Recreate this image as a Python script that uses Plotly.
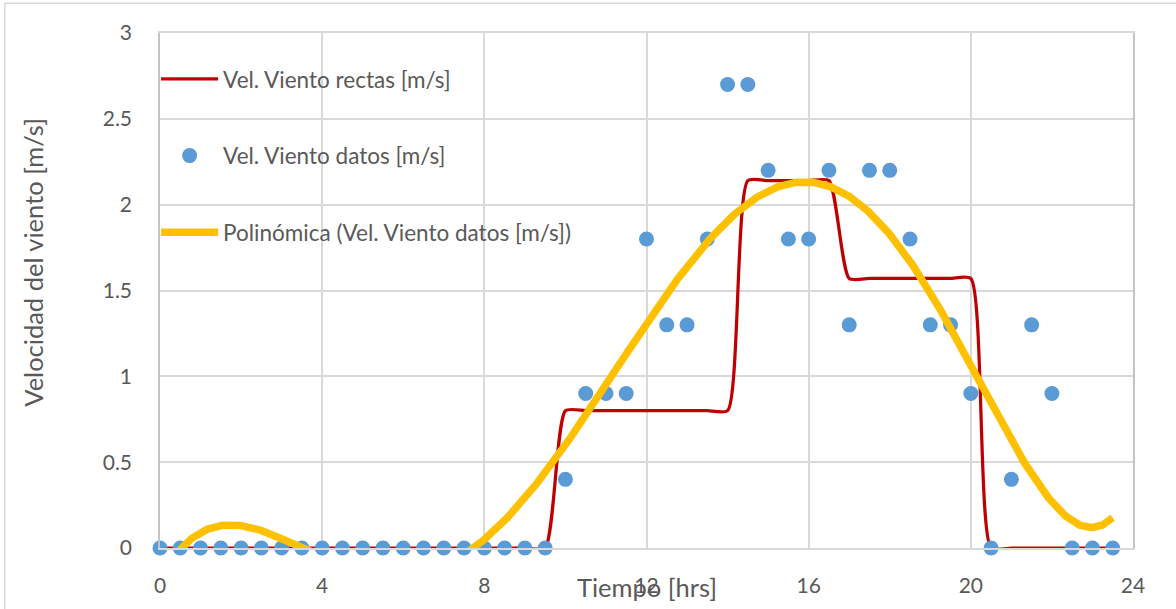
import numpy as np
import plotly.graph_objects as go

# Hora del día (cada media hora)
hours = [0, 0.5, 1, 1.5, 2, 2.5, 3, 3.5, 4, 4.5, 5, 5.5, 6, 6.5, 7, 7.5,
         8, 8.5, 9, 9.5, 10, 10.5, 11, 11.5, 12, 12.5, 13, 13.5, 14, 14.5,
         15, 15.5, 16, 16.5, 17, 17.5, 18, 18.5, 19, 19.5, 20, 20.5, 21,
         21.5, 22, 22.5, 23, 23.5]

# Velocidad medida [m/s]
wind_data = [0, 0, 0, 0, 0, 0, 0, 0, 0, 0, 0, 0, 0, 0, 0, 0,
             0, 0, 0, 0, 0.4, 0.9, 0.9, 0.9, 1.8, 1.3, 1.3, 1.8, 2.7, 2.7,
             2.2, 1.8, 1.8, 2.2, 1.3, 2.2, 2.2, 1.8, 1.3, 1.3, 0.9, 0, 0.4,
             1.3, 0.9, 0, 0, 0]

# Velocidad por tramos rectos [m/s]
wind_steps = [0, 0, 0, 0, 0, 0, 0, 0, 0, 0, 0, 0, 0, 0, 0, 0,
              0, 0, 0, 0, 0.8, 0.8, 0.8, 0.8, 0.8, 0.8, 0.8, 0.8, 0.8, 2.14,
              2.14, 2.14, 2.14, 2.14, 1.57, 1.57, 1.57, 1.57, 1.57, 1.57, 1.57, 0, 0,
              0, 0, 0, 0, 0]

x_ticks = [0, 4, 8, 12, 16, 20, 24]
y_ticks = [0, 0.5, 1, 1.5, 2, 2.5, 3]

# Línea de tendencia polinómica (orden 6) ajustada a los datos medidos
coef = np.polyfit(hours, wind_data, 6)
trend_x = np.linspace(hours[0], hours[-1], 800)
trend_y = np.polyval(coef, trend_x)

FONT = "Lato"
GREY_TXT = "#595959"
GRID = "#d9d9d9"

fig = go.Figure()

fig.add_trace(go.Scatter(
    x=hours, y=wind_steps, mode="lines",
    name="Vel. Viento rectas [m/s]", legendgroup="a",
    line=dict(color="#C00000", width=3.25, shape="spline", smoothing=0.6),
))
fig.add_trace(go.Scatter(
    x=hours, y=wind_data, mode="markers",
    name="Vel. Viento datos [m/s]", legendgroup="b",
    marker=dict(color="#5B9BD5", size=15, line=dict(width=0)),
    cliponaxis=False,
))
fig.add_trace(go.Scatter(
    x=trend_x, y=trend_y, mode="lines",
    name="Polinómica (Vel. Viento datos [m/s])", legendgroup="c",
    line=dict(color="#FFC000", width=7.5),
))

fig.update_layout(
    width=1176, height=609,
    margin=dict(l=160, r=43, t=33, b=55),
    paper_bgcolor="white", plot_bgcolor="white",
    font=dict(family=FONT, color=GREY_TXT, size=21),
    showlegend=True,
    legend=dict(
        x=-0.004, y=0.952, xanchor="left", yanchor="top",
        bgcolor="rgba(0,0,0,0)", borderwidth=0,
        font=dict(family=FONT, size=22.5, color=GREY_TXT),
        tracegroupgap=44.5, itemwidth=57,
    ),
    xaxis=dict(
        range=[0, 24], tickvals=x_ticks, ticktext=[str(v) for v in x_ticks],
        showgrid=True, gridcolor=GRID, gridwidth=1.5,
        showline=True, linecolor=GRID, linewidth=1.5, mirror=True,
        zeroline=False, ticks="", ticklabelstandoff=18,
        tickfont=dict(family=FONT, size=21, color=GREY_TXT),
    ),
    yaxis=dict(
        range=[0, 3], tickvals=y_ticks, ticktext=["0", "0.5", "1", "1.5", "2", "2.5", "3"],
        showgrid=True, gridcolor=GRID, gridwidth=1.5,
        showline=True, linecolor="#c4c4c4", linewidth=1.5, mirror=True,
        zeroline=False, ticks="", ticklabelstandoff=22,
        tickfont=dict(family=FONT, size=21, color=GREY_TXT),
    ),
    shapes=[dict(
        type="rect", xref="paper", yref="paper",
        x0=-0.1595, x1=1.2, y0=-0.3, y1=1.0577,
        line=dict(color=GRID, width=1.5), fillcolor="rgba(0,0,0,0)", layer="below",
    )],
    annotations=[
        dict(text="Tiempo [hrs]", xref="paper", yref="paper", x=0.5, y=-0.075,
             xanchor="center", yanchor="middle", showarrow=False,
             font=dict(family=FONT, size=25.5, color=GREY_TXT)),
        dict(text="Velocidad del viento [m/s]", xref="paper", yref="paper",
             x=(33 - 160) / 973, y=0.554, textangle=-90,
             xanchor="center", yanchor="middle", showarrow=False,
             font=dict(family=FONT, size=25.5, color=GREY_TXT)),
    ],
)

fig.write_html("out.html")
